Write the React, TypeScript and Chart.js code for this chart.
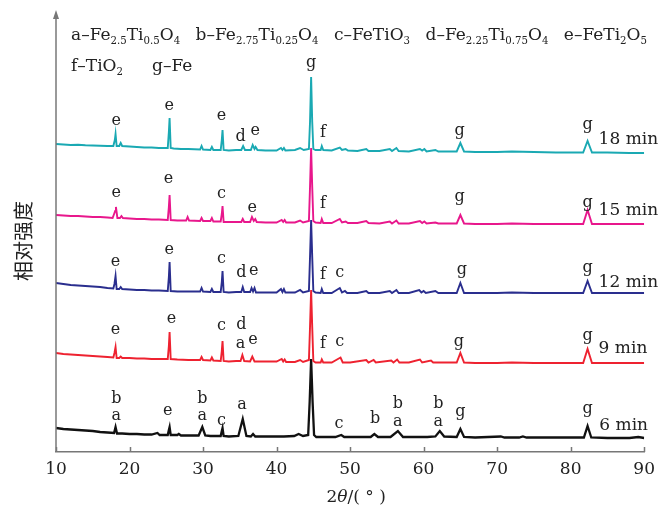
import React, { useEffect, useRef } from "react";
import { Chart, registerables } from "chart.js";

Chart.register(...registerables);

type P = [number, number];
type L = [number, number, string];

// ---- data (2θ in degrees, stacked relative intensity) ----
const xTicks = [10, 20, 30, 40, 50, 60, 70, 80, 90];
const seriesNames = ["18 min", "15 min", "12 min", "9 min", "6 min"];
const seriesColors = ["#1aa9b3", "#e8178c", "#2a2e8e", "#ee2230", "#111111"];

const s18: P[] = [[10,308],[11,307.5],[12,307],[13,307.3],[14,306.8],[15,306.5],[16,306.2],[17,306],[17.8,306],[18.0,312],[18.1,318],[18.25,306],[18.6,306],[18.8,309],[19.0,306],[20,305.5],[21,305],[22,304.5],[23,304.5],[24,304],[25.2,304],[25.35,320],[25.45,334],[25.6,304],[26,303.5],[27,303],[28,303],[29.6,302.5],[29.8,306],[30.0,302.5],[31.0,302],[31.2,305],[31.4,302],[32.4,302],[32.55,312],[32.65,322],[32.8,302],[33.5,301.5],[34.5,302],[35.2,302],[35.45,306],[35.7,302],[36.5,302],[36.75,307],[37.0,303],[37.15,305],[37.4,302],[38.5,301.5],[40,301.5],[40.6,304],[40.8,302],[41.0,304],[41.2,301.5],[42.5,302],[43.2,304],[43.7,302],[44.4,303],[44.55,330],[44.7,375],[44.85,330],[45.0,303],[45.3,302],[46.0,302],[46.15,306],[46.35,302],[47.5,301.5],[48.6,304.5],[48.9,302],[49.4,303],[49.7,301.5],[51,301],[52.2,303],[52.5,301],[54,301],[55.4,303],[55.7,301],[56.3,304],[56.6,301],[58,300.5],[59.5,303],[59.8,301.5],[60.1,303],[60.4,300.5],[61.6,302],[62,300.5],[64.5,300.5],[65.0,309],[65.5,300.5],[67,300],[70,300],[72,300.5],[75,300],[78,299.5],[81.7,299.5],[82.3,311],[82.9,299.5],[85,299.5],[88,299],[90,299]];
const s15: P[] = [[10,237],[11,236.5],[12,236],[13,236],[14,235.5],[15,235],[16,235],[17,234.5],[17.7,234],[17.9,238],[18.05,241],[18.15,245],[18.35,234],[18.7,234],[18.9,236],[19.1,234],[20,233.5],[21,233],[22,233],[23,232.5],[24,232.5],[25.2,232],[25.35,245],[25.45,257],[25.6,232],[26.5,231.5],[27.7,231.5],[27.9,235],[28.1,231.5],[29.6,231],[29.8,234],[30.0,231],[31.0,231],[31.2,234],[31.4,230.5],[32.4,230.5],[32.55,238],[32.65,246],[32.8,230],[33.5,230],[34.5,230],[35.2,230],[35.4,233],[35.6,230],[36.4,230],[36.65,235],[36.9,231],[37.1,233],[37.3,230],[38.5,229.5],[40,229.5],[40.7,232],[40.9,230],[41.1,232],[41.3,229.5],[42.5,229.5],[43.2,231.5],[43.6,229.5],[44.4,231],[44.55,265],[44.7,304],[44.85,265],[45.0,231],[45.3,229.5],[46.0,229],[46.15,233],[46.35,229],[47.5,229],[48.6,233],[48.9,229.5],[49.4,230.5],[49.7,229],[51,229],[52.2,231],[52.5,229],[54,228.5],[55.4,230.5],[55.7,228.5],[56.3,231.5],[56.6,228.5],[58,228.5],[59.5,231],[59.8,229],[60.1,230.5],[60.4,228.5],[61.6,229.5],[62,228.5],[64.5,228.5],[65.0,237],[65.5,228.5],[67,228],[70,228],[72,228.5],[75,228],[78,228],[81.7,228],[82.3,242],[82.9,228],[85,228],[88,228],[90,228]];
const s12: P[] = [[10,169],[11,168],[12,167],[13,166.5],[14,166],[15,165.5],[16,165],[17,164],[17.8,163.5],[17.95,168],[18.1,176],[18.25,163],[18.6,163],[18.8,165],[19.0,163],[20,162.5],[21,162],[22,162],[23,161.5],[24,161.5],[25.2,161],[25.35,175],[25.45,190],[25.6,161],[26.5,160.5],[28,160.5],[29.6,160.5],[29.8,164],[30.0,160.5],[31.0,160],[31.2,163],[31.4,160],[32.4,160],[32.55,170],[32.65,181],[32.8,160],[33.5,159.5],[34.5,160],[35.2,160],[35.4,165],[35.6,160],[36.4,160],[36.6,164],[36.8,160.5],[37.0,164],[37.2,159.5],[38.5,159.5],[40,159.5],[40.6,163],[40.8,160],[41.0,163],[41.2,159.5],[42.5,159.5],[43.2,162],[43.6,159.5],[44.4,161],[44.55,195],[44.7,232],[44.85,195],[45.0,161],[45.3,159.5],[46.0,159],[46.15,163],[46.35,159],[47.5,159],[48.6,164],[48.9,159.5],[49.3,161],[49.6,159],[51,159],[52.2,161],[52.5,159],[54,159],[55.4,161],[55.7,159],[56.3,162],[56.6,159],[58,159],[59.4,162],[59.7,159.5],[60.0,161],[60.3,159],[61.6,161],[62,159],[64.5,159],[65.0,169],[65.5,159],[67,159],[70,159],[72,159.5],[75,159],[78,159],[81.7,159],[82.3,171],[82.9,159],[85,159],[88,159],[90,159]];
const s9: P[] = [[10,99],[11,98],[12,97.5],[13,97],[14,96.5],[15,96],[16,95.5],[17,95],[17.8,94.5],[17.95,99],[18.1,105],[18.25,94],[18.6,94],[18.8,95.5],[19.0,94],[20,94],[21,93.5],[22,93.5],[23,93],[24,93],[25.2,93],[25.35,106],[25.45,120],[25.6,93],[26.5,92.5],[28,92],[29.6,92],[29.8,95],[30.0,92],[31.0,91.5],[31.2,94.5],[31.4,91.5],[32.4,91],[32.55,101],[32.65,111],[32.8,91],[33.5,90.5],[34.5,91],[35.1,91],[35.35,97],[35.6,91],[36.4,90.5],[36.7,95.5],[37.0,90.5],[38.5,90.5],[40,90.5],[40.7,93],[40.9,90.5],[41.1,92.5],[41.3,90],[42.5,90],[43.2,92],[43.6,90],[44.4,92],[44.55,125],[44.7,162],[44.85,125],[45.0,91],[45.3,89.5],[46.0,89.5],[46.15,92.5],[46.35,89.5],[47.5,89.5],[48.7,94.5],[49.0,89.5],[50,89.5],[52.2,92],[52.5,89.5],[53.2,92],[53.5,89.5],[55.6,91.5],[55.9,89.5],[56.4,92.5],[56.7,89.5],[58,89.5],[59.5,92.5],[59.8,89.5],[61.0,91.5],[61.3,89.5],[64.5,89.5],[65.0,99],[65.5,89.5],[67,89],[70,89],[72,89.5],[75,89],[78,89],[81.7,89],[82.3,103],[82.9,89],[85,89],[88,89],[90,89]];
const s6: P[] = [[10,24],[11,23],[12,22.5],[13,22],[14,21.5],[15,21],[16,20],[17,19.5],[17.9,19],[18.1,25],[18.3,18.5],[19,18.5],[20,18],[21,18],[22,17.5],[23,17.5],[23.8,19],[24.1,17],[25.2,17],[25.35,22],[25.45,25],[25.6,17],[26.5,17],[26.7,18],[27,16.5],[28,16.5],[29.4,16.5],[29.9,25],[30.3,16.5],[31,16],[32.4,16],[32.55,21],[32.65,24],[32.8,16],[33.5,15.5],[34.8,16],[35.4,33],[35.9,16],[36.5,15.5],[36.8,18],[37.1,15.5],[38.5,15.5],[40,15.5],[41,15.5],[42.4,16],[43,18],[43.6,16],[44.3,17],[44.5,50],[44.7,93],[44.9,50],[45.1,17],[45.4,15],[46.5,15],[48,15],[48.8,17],[49.2,15],[51,15],[52.8,15],[53.3,18],[53.8,15],[55.5,15],[56.5,21],[57.2,15],[59,15],[60.5,15],[61.6,15.5],[62.2,21],[62.8,15.5],[64.5,15],[65.0,23],[65.5,15],[67,14.5],[70.5,15.5],[71,14.5],[73,14.5],[73.5,15.5],[74,14.5],[78,14.5],[81.8,14.5],[82.3,26],[82.8,14.5],[85,14],[88,14],[89.2,15],[90,14]];
const seriesData = [s18, s15, s12, s9, s6];

// phase letters above peaks: [2θ, intensity, letter]
const lab18: L[] = [[18.2,331,"e"],[25.4,346,"e"],[32.5,336,"e"],[35.1,315,"d"],[37.1,321,"e"],[44.7,389,"g"],[46.3,319,"f"],[64.9,321,"g"],[82.3,327,"g"]];
const lab15: L[] = [[18.2,259,"e"],[25.3,273,"e"],[32.5,258,"c"],[36.7,244,"e"],[46.3,248,"f"],[64.9,255,"g"],[82.3,249,"g"]];
const lab12: L[] = [[18.1,190,"e"],[25.4,202,"e"],[32.5,193,"c"],[35.2,179,"d"],[36.9,181,"e"],[46.3,177,"f"],[48.6,179,"c"],[65.2,182,"g"],[82.3,184,"g"]];
const lab9: L[] = [[18.1,122,"e"],[25.7,133,"e"],[32.5,126,"c"],[35.2,127,"d"],[35.1,108,"a"],[36.8,112,"e"],[46.3,108,"f"],[48.6,110,"c"],[64.8,110,"g"],[82.3,116,"g"]];
const lab6: L[] = [[18.2,53,"b"],[18.2,36,"a"],[25.2,41,"e"],[29.9,53,"b"],[29.9,36,"a"],[32.5,31,"c"],[35.3,47,"a"],[48.5,28,"c"],[53.4,33,"b"],[56.5,48,"b"],[56.5,30,"a"],[62.0,48,"b"],[62.0,30,"a"],[65.0,40,"g"],[82.3,43,"g"]];
const peakLabels = [lab18, lab15, lab12, lab9, lab6];
const timeLabelAt: P[] = [[83.8,312],[83.8,241],[83.8,169],[83.8,103],[83.9,26]];

const legendRow1 = ["a–Fe_{2.5}Ti_{0.5}O_{4}", "b–Fe_{2.75}Ti_{0.25}O_{4}", "c–FeTiO_{3}", "d–Fe_{2.25}Ti_{0.75}O_{4}", "e–FeTi_{2}O_{5}"];
const legendRow2 = ["f–TiO_{2}", "g–Fe"];

// ---- layout ----
const SERIF = '"DejaVu Serif", serif';
const LEG_SIZE = 17;
const LEG_LEFT = 71;
const LEG_RIGHT = 647;
const legendX2 = [71, 152];
const X_AXIS_HEIGHT = 61;

function richWidth(ctx: CanvasRenderingContext2D, text: string, size: number) {
  const parts = text.split(/(_\{[^}]*\})/).filter((s) => s.length > 0);
  let w = 0;
  for (const p of parts) {
    if (p.startsWith("_{")) {
      ctx.font = `${size * 0.6}px ${SERIF}`;
      w += ctx.measureText(p.slice(2, -1)).width;
    } else {
      ctx.font = `${size}px ${SERIF}`;
      w += ctx.measureText(p).width;
    }
  }
  return w;
}

function drawRich(ctx: CanvasRenderingContext2D, text: string, x: number, y: number, size: number) {
  const parts = text.split(/(_\{[^}]*\})/).filter((s) => s.length > 0);
  let cx = x;
  ctx.textAlign = "left";
  ctx.textBaseline = "alphabetic";
  for (const p of parts) {
    if (p.startsWith("_{")) {
      const t = p.slice(2, -1);
      ctx.font = `${size * 0.6}px ${SERIF}`;
      ctx.fillText(t, cx, y + size * 0.22);
      cx += ctx.measureText(t).width;
    } else {
      ctx.font = `${size}px ${SERIF}`;
      ctx.fillText(p, cx, y);
      cx += ctx.measureText(p).width;
    }
  }
}

const decorPlugin = {
  id: "decor",
  afterDraw(chart: any) {
    const { ctx, chartArea, scales } = chart;
    const xs = scales.x;
    const ys = scales.y;
    ctx.save();
    // left axis with arrow
    ctx.strokeStyle = "#777";
    ctx.fillStyle = "#777";
    ctx.lineWidth = 1.5;
    ctx.beginPath();
    ctx.moveTo(chartArea.left, chartArea.bottom);
    ctx.lineTo(chartArea.left, chartArea.top + 4);
    ctx.stroke();
    ctx.beginPath();
    ctx.moveTo(chartArea.left - 3, chartArea.top + 9);
    ctx.lineTo(chartArea.left, chartArea.top);
    ctx.lineTo(chartArea.left + 3, chartArea.top + 9);
    ctx.closePath();
    ctx.fill();
    // inward ticks
    for (const t of xTicks) {
      const px = Math.round(xs.getPixelForValue(t)) + 0.5;
      ctx.beginPath();
      ctx.moveTo(px, chartArea.bottom);
      ctx.lineTo(px, chartArea.bottom - 5);
      ctx.stroke();
    }
    // peak letters
    ctx.fillStyle = "#222";
    ctx.font = `16px ${SERIF}`;
    ctx.textAlign = "center";
    ctx.textBaseline = "middle";
    peakLabels.forEach((arr) => {
      for (const [x, y, s] of arr) ctx.fillText(s, xs.getPixelForValue(x), ys.getPixelForValue(y));
    });
    // time labels
    ctx.font = `17px ${SERIF}`;
    ctx.textAlign = "left";
    seriesNames.forEach((n, i) => {
      const [x, y] = timeLabelAt[i];
      ctx.fillText(n, xs.getPixelForValue(x), ys.getPixelForValue(y));
    });
    // legend text, row 1 spread evenly across the top
    ctx.fillStyle = "#222";
    const widths = legendRow1.map((t) => richWidth(ctx, t, LEG_SIZE));
    const total = widths.reduce((a, b) => a + b, 0);
    const gap = (LEG_RIGHT - LEG_LEFT - total) / (legendRow1.length - 1);
    let lx = LEG_LEFT;
    legendRow1.forEach((t, i) => {
      drawRich(ctx, t, lx, 40, LEG_SIZE);
      lx += widths[i] + gap;
    });
    legendRow2.forEach((t, i) => drawRich(ctx, t, legendX2[i], 71, LEG_SIZE));
    // x title
    const parts: [string, string][] = [["2", "normal"], ["θ", "italic"], ["/(", "normal"], [" ° ", "normal"], [")", "normal"]];
    let w = 0;
    for (const [t, st] of parts) { ctx.font = `${st} 17px ${SERIF}`; w += ctx.measureText(t).width; }
    let cx = (chartArea.left + chartArea.right) / 2 + 6 - w / 2;
    ctx.textBaseline = "alphabetic";
    for (const [t, st] of parts) {
      ctx.font = `${st} 17px ${SERIF}`;
      ctx.fillText(t, cx, 502);
      cx += ctx.measureText(t).width;
    }
    // y title
    ctx.translate(23, 241);
    ctx.rotate(-Math.PI / 2);
    ctx.font = `20px "Noto Sans CJK SC", sans-serif`;
    ctx.textAlign = "center";
    ctx.textBaseline = "middle";
    ctx.fillText("相对强度", 0, 0);
    ctx.restore();
  },
};

export default function App() {
  const ref = useRef<HTMLCanvasElement | null>(null);
  useEffect(() => {
    if (!ref.current) return;
    const chart = new Chart(ref.current, {
      type: "line",
      data: {
        datasets: seriesData.map((d, i) => ({
          label: seriesNames[i],
          data: d.map(([x, y]) => ({ x, y })),
          borderColor: seriesColors[i],
          borderWidth: i === 4 ? 2.3 : 1.9,
          pointRadius: 0,
          tension: 0,
          fill: false,
        })),
      },
      options: {
        animation: false,
        responsive: false,
        maintainAspectRatio: false,
        layout: { padding: { left: 56, right: 13, top: 10, bottom: 0 } },
        plugins: { legend: { display: false }, tooltip: { enabled: false } },
        scales: {
          x: {
            type: "linear",
            min: 10,
            max: 90,
            ticks: { stepSize: 10, color: "#222", font: { family: SERIF, size: 17 }, padding: 7, maxRotation: 0 },
            grid: { display: false, drawTicks: false, tickLength: 0 },
            border: { display: true, color: "#777", width: 1.5 },
            afterFit: (scale: any) => { scale.height = X_AXIS_HEIGHT; },
          },
          y: { type: "linear", min: 0, max: 442, display: false },
        },
      },
      plugins: [decorPlugin],
    });
    return () => chart.destroy();
  }, []);
  return (
    <div style={{ position: "absolute", left: 0, top: 0, width: 662, height: 513, background: "#fff" }}>
      <canvas ref={ref} width={662} height={513} style={{ display: "block" }} />
    </div>
  );
}
